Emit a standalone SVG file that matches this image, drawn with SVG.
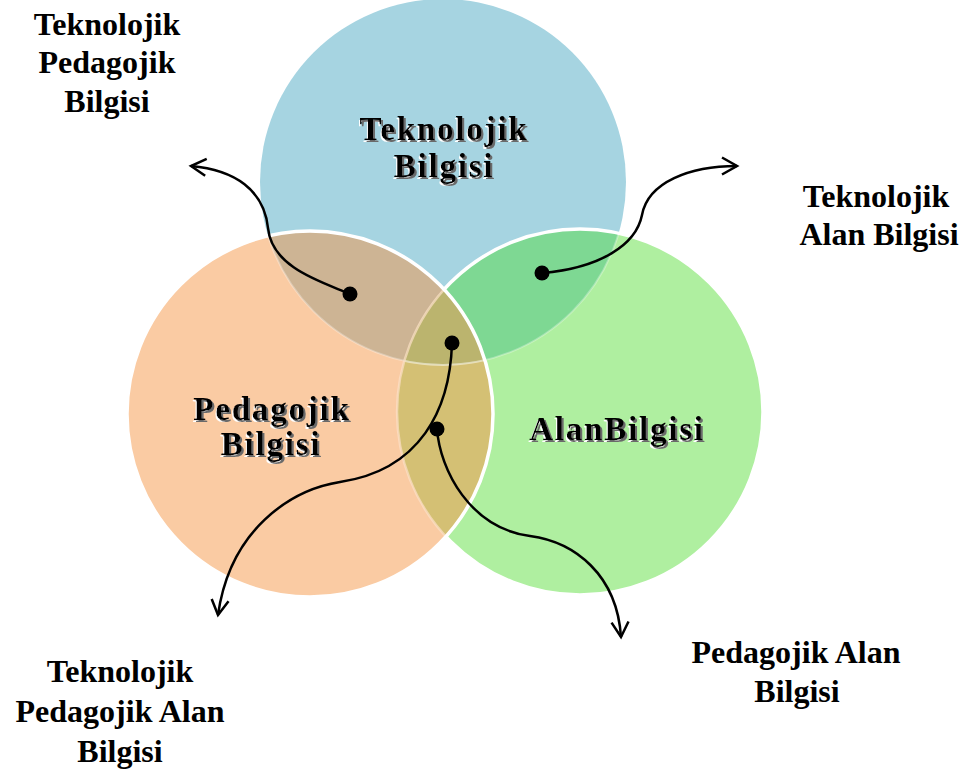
<svg xmlns="http://www.w3.org/2000/svg" width="966" height="774" viewBox="0 0 966 774">
<style>
.lbl{font-family:"Liberation Serif","Times New Roman",serif;font-weight:bold;font-size:33px;letter-spacing:1.8px;fill:#000;text-anchor:middle;filter:url(#emboss)}
.out{font-family:"Liberation Serif","Times New Roman",serif;font-weight:bold;font-size:32px;fill:#000;text-anchor:middle}
.conn{fill:none;stroke:#000;stroke-width:2.5;marker-end:url(#arr)}
.dot{fill:#000}
</style>
<defs>
<clipPath id="cB"><circle cx="443" cy="182" r="183"/></clipPath>
<clipPath id="cO"><circle cx="310" cy="414" r="183"/></clipPath>
<clipPath id="cG"><circle cx="580" cy="412" r="183"/></clipPath>
<mask id="notO" maskUnits="userSpaceOnUse" x="0" y="0" width="966" height="774">
<rect x="0" y="0" width="966" height="774" fill="#fff"/>
<circle cx="310" cy="414" r="183" fill="#000"/>
</mask>
<filter id="emboss" x="-10%" y="-20%" width="120%" height="150%">
<feOffset in="SourceAlpha" dx="-1" dy="2" result="o1"/>
<feFlood flood-color="#ffffff"/>
<feComposite in2="o1" operator="in" result="w"/>
<feOffset in="SourceAlpha" dx="2" dy="2" result="o2"/>
<feFlood flood-color="#6a6a6a"/>
<feComposite in2="o2" operator="in" result="g"/>
<feMerge><feMergeNode in="w"/><feMergeNode in="g"/><feMergeNode in="SourceGraphic"/></feMerge>
</filter>
<marker id="arr" markerUnits="userSpaceOnUse" markerWidth="24" markerHeight="24" viewBox="-18 -12 24 24" refX="0" refY="0" orient="auto">
<path d="M-15,-8.5 L0,0 L-15,8.5" fill="none" stroke="#000" stroke-width="2.5"/>
</marker>
</defs>

<g id="node-teknolojik-bilgisi">
<circle cx="443" cy="182" r="183" fill="#A6D4E1"/>
</g>
<g id="node-alan-bilgisi">
<circle cx="580" cy="412" r="183" fill="#AFEFA0"/>
</g>
<g id="node-pedagojik-bilgisi">
<circle cx="310" cy="414" r="183" fill="#FACBA3"/>
</g>

<g id="overlaps">
<g clip-path="url(#cB)"><circle cx="310" cy="414" r="183" fill="#CDB494"/></g>
<g clip-path="url(#cB)"><circle cx="580" cy="412" r="183" fill="#7ED893"/></g>
<g clip-path="url(#cG)"><circle cx="310" cy="414" r="183" fill="#D4C074"/></g>
<g clip-path="url(#cB)"><g clip-path="url(#cG)"><circle cx="310" cy="414" r="183" fill="#BBB46E"/></g></g>
</g>

<g id="edges" fill="none">
<g clip-path="url(#cO)"><circle cx="443" cy="182" r="183" stroke="#ffffff" stroke-opacity="0.3" stroke-width="2"/></g>
<g clip-path="url(#cG)"><circle cx="443" cy="182" r="183" stroke="#ffffff" stroke-opacity="0.3" stroke-width="2"/></g>
<circle cx="580" cy="412" r="183" stroke="#ffffff" stroke-width="3.5" mask="url(#notO)"/>
<g clip-path="url(#cO)"><circle cx="580" cy="412" r="183" stroke="#FCE0C8" stroke-width="2.5" stroke-opacity="0.7"/></g>
<circle cx="310" cy="414" r="183" stroke="#ffffff" stroke-width="3.5"/>
</g>

<g id="label-teknolojik-bilgisi">
<text class="lbl"><tspan x="444" y="140">Teknolojik</tspan><tspan x="444" y="177">Bilgisi</tspan></text>
</g>
<g id="label-pedagojik-bilgisi">
<text class="lbl"><tspan x="272" y="420">Pedagojik</tspan><tspan x="271" y="455">Bilgisi</tspan></text>
</g>
<g id="label-alan-bilgisi">
<text class="lbl" x="617" y="440">AlanBilgisi</text>
</g>

<g id="node-tpb">
<text class="out"><tspan x="107" y="35">Teknolojik</tspan><tspan x="107" y="73">Pedagojik</tspan><tspan x="107" y="112">Bilgisi</tspan></text>
</g>
<g id="node-tab">
<text class="out"><tspan x="876" y="207">Teknolojik</tspan><tspan x="879" y="245">Alan Bilgisi</tspan></text>
</g>
<g id="node-tpab">
<text class="out"><tspan x="120" y="682">Teknolojik</tspan><tspan x="120" y="722">Pedagojik Alan</tspan><tspan x="120" y="762">Bilgisi</tspan></text>
</g>
<g id="node-pab">
<text class="out"><tspan x="796" y="663">Pedagojik Alan</tspan><tspan x="797" y="702">Bilgisi</tspan></text>
</g>

<g id="connectors">
<path class="conn" d="M350,294 C322,282 272,268 268,228 C264,190 235,170 191,166"/>
<circle class="dot" cx="350" cy="294" r="7.5"/>
<path class="conn" d="M542,273 C600,268 636,245 642,215 C648,182 690,166 737,166"/>
<circle class="dot" cx="542" cy="273" r="7.5"/>
<path class="conn" d="M452,343 C450,410 420,470 340,482 C290,490 230,530 218,615"/>
<circle class="dot" cx="452" cy="343" r="7.5"/>
<path class="conn" d="M437,429 C440,470 470,528 530,536 C575,542 617,575 621,637"/>
<circle class="dot" cx="437" cy="429" r="7.5"/>
</g>
</svg>
